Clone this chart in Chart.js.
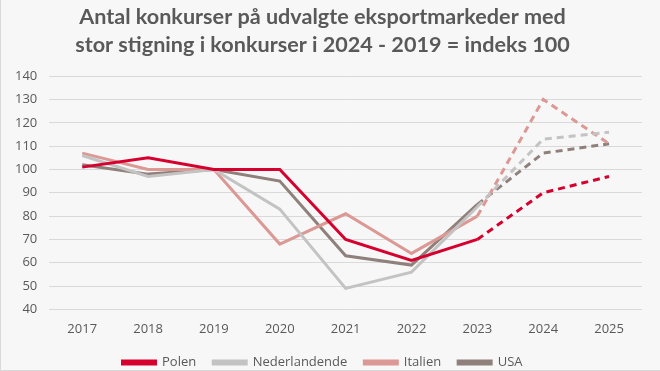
<!DOCTYPE html>
<html>
<head>
<meta charset="utf-8">
<script src="https://cdn.jsdelivr.net/npm/chart.js@4"></script>
<style>
  html, body { margin: 0; padding: 0; background: #f7f7f7; }
  #wrap { width: 659px; height: 370px; border-left: 1px solid #d9d9d9; border-bottom: 1px solid #d9d9d9; background: #f7f7f7; }
</style>
</head>
<body>
<div id="wrap"><canvas id="chart" width="659" height="370"></canvas></div>
<script>
"use strict";

const years = ['2017', '2018', '2019', '2020', '2021', '2022', '2023', '2024', '2025'];
const polen = [101, 105, 100, 100, 70, 61, 70, 90, 97];
const nederlandene = [106, 97, 100, 83, 49, 56, 84, 113, 116];
const italien = [107, 100, 100, 68, 81, 64, 80, 130, 111];
const usa = [102, 98, 100, 95, 63, 59, 85, 107, 111];
const titleLines = ['Antal konkurser på udvalgte eksportmarkeder med', 'stor stigning i konkurser i 2024 - 2019 = indeks 100'];

const lastActual = 6; // 2023, after this it's forecast (dashed)

function makeSet(label, data, color){
  return {
    label: label,
    data: data,
    borderColor: color,
    backgroundColor: color,
    borderWidth: 3,
    pointRadius: 0,
    tension: 0,
    segment: {
      borderDash: ctx => ctx.p0DataIndex >= lastActual ? [7, 5] : undefined
    }
  };
}

const bgPlugin = {
  id: 'bg',
  beforeDraw(chart){
    const c = chart.ctx;
    c.save();
    c.fillStyle = '#f7f7f7';
    c.fillRect(0, 0, chart.width, chart.height);
    c.restore();
  }
};

new Chart(document.getElementById('chart'), {
  type: 'line',
  data: {
    labels: years,
    datasets: [
      makeSet('Polen', polen, '#d6002f'),
      makeSet('Nederlandende', nederlandene, '#c3c3c3'),
      makeSet('Italien', italien, '#dc9894'),
      makeSet('USA', usa, '#8f807b')
    ]
  },
  options: {
    responsive: false,
    animation: false,
    layout: { padding: { left: 2, right: 18, top: 0, bottom: -9 } },
    plugins: {
      title: {
        display: true,
        text: titleLines,
        color: '#595959',
        font: { family: 'Lato', size: 21.6, weight: 'bold', lineHeight: 1.3 },
        padding: { top: 3, bottom: 17 }
      },
      legend: {
        position: 'bottom',
        labels: {
          color: '#595959',
          font: { family: 'Open Sans', size: 13 },
          boxWidth: 33,
          boxHeight: 3,
          padding: 17
        }
      },
      tooltip: { enabled: false }
    },
    scales: {
      x: {
        offset: true,
        grid: { display: false },
        border: { display: false },
        ticks: { color: '#595959', font: { family: 'Open Sans', size: 13 }, padding: 4 },
        afterFit: axis => { axis.height -= 2; }
      },
      y: {
        min: 40,
        max: 140,
        ticks: { stepSize: 10, color: '#595959', font: { family: 'Open Sans', size: 13 }, padding: 12 },
        grid: { color: '#d9d9d9', lineWidth: 1, drawTicks: false },
        border: { display: false }
      }
    }
  },
  plugins: [bgPlugin]
});
</script>
</body>
</html>
